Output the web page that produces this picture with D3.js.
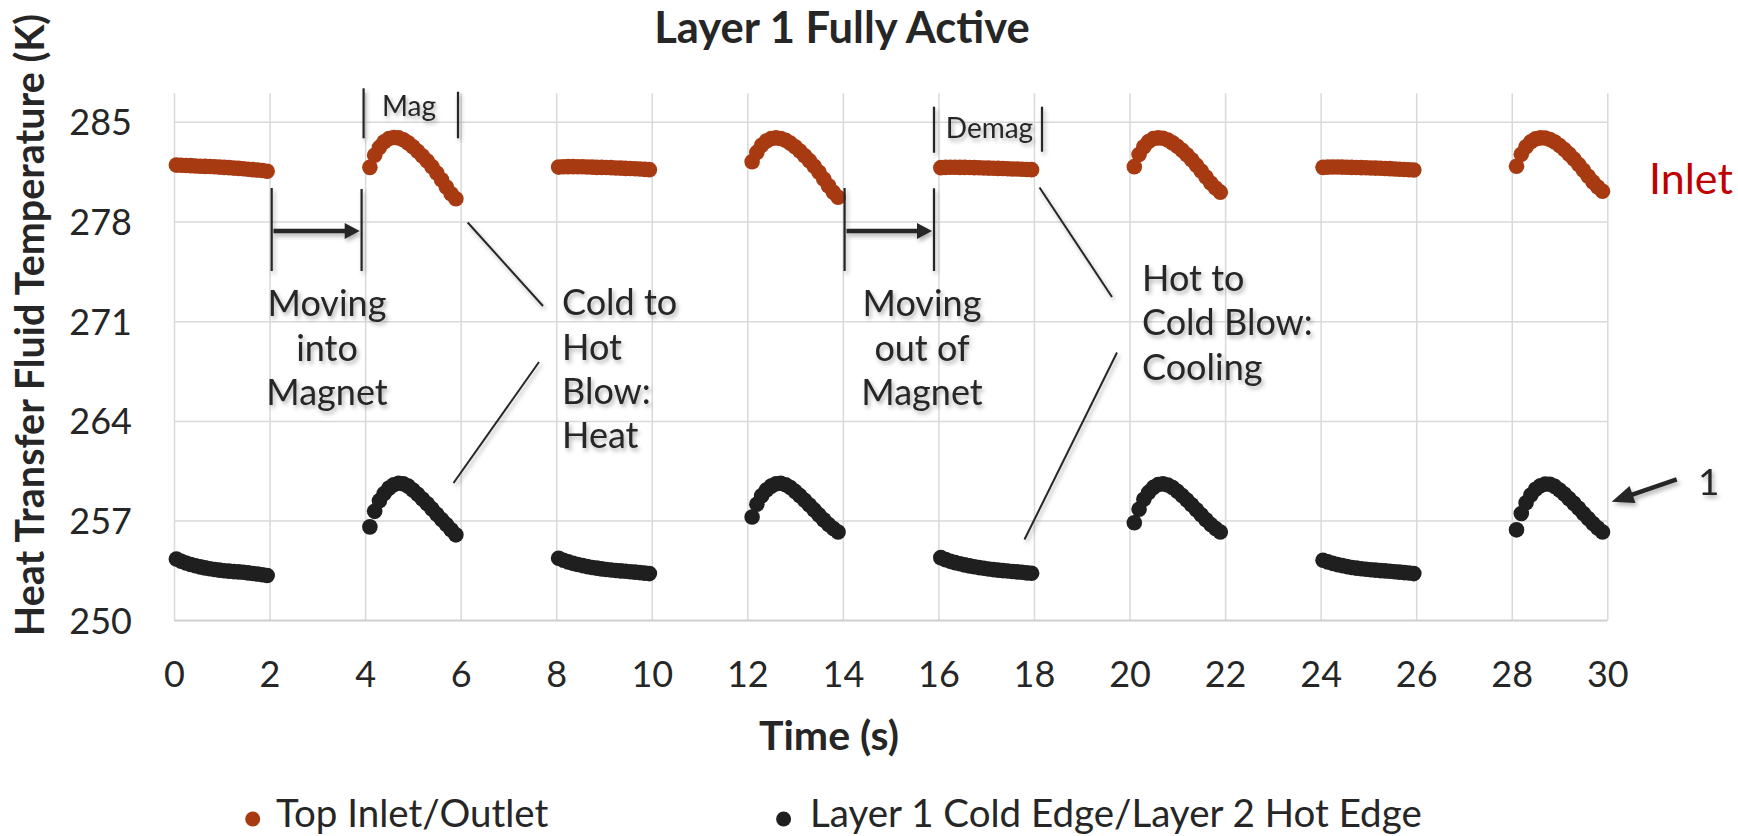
<!DOCTYPE html>
<html>
<head>
<meta charset="utf-8">
<script src="https://cdn.jsdelivr.net/npm/d3@7"></script>
<style>
  html, body { margin: 0; padding: 0; background: #fff; }
  svg { display: block; font-family: Lato, "Open Sans", sans-serif; }
</style>
</head>
<body>
<script>
// ---- Data -------------------------------------------------------------
const xTicks = [0, 2, 4, 6, 8, 10, 12, 14, 16, 18, 20, 22, 24, 26, 28, 30];
const yTicks = [250, 257, 264, 271, 278, 285];

// sample offsets (s) from the start of each flow window
const flatOffsets = [0.05, 0.15, 0.25, 0.35, 0.45, 0.55, 0.65, 0.75, 0.85, 0.95,
                     1.05, 1.15, 1.25, 1.35, 1.45, 1.55, 1.65, 1.75, 1.85, 1.95];
const arcOffsets  = [0.1, 0.2, 0.3, 0.4, 0.5, 0.6, 0.7, 0.8, 0.9, 1.0,
                     1.1, 1.2, 1.3, 1.4, 1.5, 1.6, 1.7, 1.8, 1.9];

// Top inlet/outlet temperature (K)
const inletFlat0  = [281.96, 281.95, 281.93, 281.92, 281.90, 281.88, 281.87, 281.86, 281.84, 281.82,
                     281.80, 281.78, 281.75, 281.73, 281.70, 281.67, 281.64, 281.61, 281.58, 281.53];
const inletArc4   = [281.80, 282.65, 283.20, 283.60, 283.82, 283.90, 283.87, 283.74, 283.52, 283.25,
                     282.93, 282.60, 282.24, 281.85, 281.40, 280.93, 280.42, 279.95, 279.60];
const inletFlat8  = [281.82, 281.84, 281.85, 281.85, 281.84, 281.84, 281.83, 281.82, 281.80, 281.80,
                     281.79, 281.78, 281.76, 281.75, 281.73, 281.72, 281.70, 281.68, 281.66, 281.64];
const inletArc12  = [282.20, 282.85, 283.35, 283.65, 283.82, 283.87, 283.83, 283.70, 283.50, 283.25,
                     282.95, 282.62, 282.27, 281.88, 281.45, 280.98, 280.50, 280.05, 279.70];
const inletFlat16 = [281.78, 281.80, 281.81, 281.81, 281.80, 281.80, 281.79, 281.78, 281.77, 281.76,
                     281.75, 281.74, 281.73, 281.72, 281.70, 281.69, 281.68, 281.67, 281.65, 281.64];
const inletArc20  = [281.85, 282.70, 283.25, 283.62, 283.82, 283.87, 283.84, 283.72, 283.52, 283.28,
                     283.00, 282.68, 282.33, 281.95, 281.55, 281.12, 280.70, 280.35, 280.06];
const inletFlat24 = [281.80, 281.82, 281.83, 281.83, 281.82, 281.81, 281.80, 281.79, 281.78, 281.77,
                     281.76, 281.75, 281.74, 281.72, 281.71, 281.69, 281.67, 281.65, 281.63, 281.61];
const inletArc28  = [281.88, 282.72, 283.25, 283.60, 283.80, 283.87, 283.86, 283.76, 283.58, 283.34,
                     283.05, 282.73, 282.38, 282.00, 281.60, 281.18, 280.78, 280.42, 280.12];

// Layer 1 cold edge / layer 2 hot edge temperature (K)
const edgeFlat0  = [254.30, 254.15, 254.02, 253.92, 253.83, 253.75, 253.68, 253.62, 253.57, 253.52,
                    253.48, 253.45, 253.42, 253.40, 253.37, 253.33, 253.29, 253.25, 253.20, 253.15];
const edgeArc4   = [256.56, 257.65, 258.40, 258.90, 259.28, 259.52, 259.62, 259.58, 259.42, 259.15,
                    258.85, 258.52, 258.18, 257.82, 257.45, 257.08, 256.72, 256.36, 256.00];
const edgeFlat8  = [254.36, 254.22, 254.10, 254.00, 253.92, 253.84, 253.77, 253.71, 253.66, 253.61,
                    253.57, 253.53, 253.50, 253.47, 253.44, 253.41, 253.38, 253.35, 253.31, 253.28];
const edgeArc12  = [257.25, 258.15, 258.75, 259.15, 259.42, 259.58, 259.62, 259.52, 259.32, 259.05,
                    258.75, 258.43, 258.10, 257.75, 257.40, 257.05, 256.72, 256.45, 256.20];
const edgeFlat16 = [254.40, 254.26, 254.14, 254.05, 253.97, 253.89, 253.82, 253.76, 253.70, 253.65,
                    253.60, 253.56, 253.52, 253.49, 253.46, 253.43, 253.40, 253.37, 253.33, 253.30];
const edgeArc20  = [256.85, 257.80, 258.50, 258.98, 259.33, 259.53, 259.58, 259.50, 259.32, 259.06,
                    258.76, 258.44, 258.11, 257.76, 257.41, 257.06, 256.73, 256.45, 256.20];
const edgeFlat24 = [254.22, 254.10, 254.00, 253.91, 253.84, 253.77, 253.71, 253.66, 253.62, 253.58,
                    253.55, 253.52, 253.49, 253.47, 253.44, 253.41, 253.38, 253.35, 253.32, 253.28];
const edgeArc28  = [256.35, 257.50, 258.25, 258.80, 259.20, 259.45, 259.57, 259.55, 259.40, 259.15,
                    258.86, 258.54, 258.21, 257.86, 257.50, 257.15, 256.80, 256.48, 256.20];

const seriesNames = ["Top Inlet/Outlet", "Layer 1 Cold Edge/Layer 2 Hot Edge"];
const seriesColors = ["#A83A12", "#1F1F1F"];

// segment start times paired with their readings
const inletSegments = [
  [0, flatOffsets, inletFlat0], [4, arcOffsets, inletArc4],
  [8, flatOffsets, inletFlat8], [12, arcOffsets, inletArc12],
  [16, flatOffsets, inletFlat16], [20, arcOffsets, inletArc20],
  [24, flatOffsets, inletFlat24], [28, arcOffsets, inletArc28]
];
const edgeSegments = [
  [0, flatOffsets, edgeFlat0], [4, arcOffsets, edgeArc4],
  [8, flatOffsets, edgeFlat8], [12, arcOffsets, edgeArc12],
  [16, flatOffsets, edgeFlat16], [20, arcOffsets, edgeArc20],
  [24, flatOffsets, edgeFlat24], [28, arcOffsets, edgeArc28]
];

function toPoints(segments) {
  const pts = [];
  segments.forEach(([t0, offs, vals]) => {
    vals.forEach((v, i) => pts.push({ t: +(t0 + offs[i]).toFixed(2), v }));
  });
  return pts;
}
const inletPoints = toPoints(inletSegments);
const edgePoints = toPoints(edgeSegments);

// ---- Layout -----------------------------------------------------------
const W = 1738, H = 836;
const plot = { left: 174, right: 1607.3, top: 93.3, bottom: 620.3 };
const textColor = "#262626";
const gridColor = "#D9D9D9";

const x = d3.scaleLinear().domain([0, 30]).range([plot.left, plot.right]);
const y = d3.scaleLinear().domain([250, 287]).range([plot.bottom, plot.top]);

const svg = d3.select("body").append("svg")
  .attr("width", W).attr("height", H);

const defs = svg.append("defs");
const shadow = defs.append("filter").attr("id", "soft-shadow")
  .attr("x", "-20%").attr("y", "-20%").attr("width", "140%").attr("height", "140%");
shadow.append("feDropShadow")
  .attr("dx", 2).attr("dy", 3).attr("stdDeviation", 2)
  .attr("flood-color", "#000").attr("flood-opacity", 0.3);

// ---- Gridlines and axes ----------------------------------------------
const xAxis = d3.axisBottom(x).tickValues(xTicks).tickFormat(d3.format("d"))
  .tickSize(-(plot.bottom - plot.top)).tickPadding(41);
const gx = svg.append("g").attr("transform", `translate(0,${plot.bottom})`).call(xAxis);
gx.select(".domain").remove();
gx.selectAll(".tick line").attr("stroke", gridColor).attr("stroke-width", 1.5);
gx.selectAll(".tick text").attr("fill", textColor)
  .attr("font-family", "Lato").attr("font-size", 36);

const yAxis = d3.axisLeft(y).tickValues(yTicks).tickFormat(d3.format("d"))
  .tickSize(-(plot.right - plot.left)).tickPadding(42);
const gy = svg.append("g").attr("transform", `translate(${plot.left},0)`).call(yAxis);
gy.select(".domain").remove();
gy.selectAll(".tick line").attr("stroke", gridColor).attr("stroke-width", 1.5);
gy.selectAll(".tick text").attr("fill", textColor)
  .attr("font-family", "Lato").attr("font-size", 36).attr("dy", "0.36em");

// bottom axis line
svg.append("line")
  .attr("x1", plot.left).attr("x2", plot.right)
  .attr("y1", y(250)).attr("y2", y(250))
  .attr("stroke", "#CFCFCF").attr("stroke-width", 1.8);

// ---- Titles -----------------------------------------------------------
svg.append("text").attr("x", 842).attr("y", 43)
  .attr("text-anchor", "middle").attr("font-weight", 700).attr("font-size", 43.5)
  .attr("fill", textColor).text("Layer 1 Fully Active");

svg.append("text").attr("transform", "translate(44,325) rotate(-90)")
  .attr("text-anchor", "middle").attr("font-weight", 700).attr("font-size", 39.5)
  .attr("fill", textColor).text("Heat Transfer Fluid Temperature (K)");

svg.append("text").attr("x", 829).attr("y", 750)
  .attr("text-anchor", "middle").attr("font-weight", 700).attr("font-size", 41)
  .attr("fill", textColor).text("Time (s)");

// ---- Data markers -----------------------------------------------------
const R = 7.8;
svg.append("g").selectAll("circle").data(inletPoints).join("circle")
  .attr("cx", d => x(d.t)).attr("cy", d => y(d.v)).attr("r", R)
  .attr("fill", seriesColors[0]);
svg.append("g").selectAll("circle").data(edgePoints).join("circle")
  .attr("cx", d => x(d.t)).attr("cy", d => y(d.v)).attr("r", R)
  .attr("fill", seriesColors[1]);

// ---- Legend -----------------------------------------------------------
const legendItems = [
  { name: seriesNames[0], color: seriesColors[0], mx: 252.7, tx: 276 },
  { name: seriesNames[1], color: seriesColors[1], mx: 783.6, tx: 810 }
];
const lg = svg.append("g");
lg.selectAll("circle").data(legendItems).join("circle")
  .attr("cx", d => d.mx).attr("cy", 819).attr("r", 7.5).attr("fill", d => d.color);
lg.selectAll("text").data(legendItems).join("text")
  .attr("x", d => d.tx).attr("y", 827).attr("font-size", 38.5).attr("fill", textColor)
  .text(d => d.name);

// ---- Annotations ------------------------------------------------------
const ann = svg.append("g").attr("filter", "url(#soft-shadow)")
  .attr("fill", textColor).attr("stroke-linecap", "butt");

function vline(px, y1, y2) {
  ann.append("line").attr("x1", px).attr("x2", px).attr("y1", y1).attr("y2", y2)
    .attr("stroke", textColor).attr("stroke-width", 2.2);
}
function seg(x1, y1, x2, y2, w) {
  ann.append("line").attr("x1", x1).attr("y1", y1).attr("x2", x2).attr("y2", y2)
    .attr("stroke", textColor).attr("stroke-width", w);
}
function arrow(x1, y1, x2, y2, headLen, headHalf, w) {
  const dx = x2 - x1, dy = y2 - y1, L = Math.hypot(dx, dy);
  const ux = dx / L, uy = dy / L;
  const bx = x2 - ux * headLen, by = y2 - uy * headLen;
  seg(x1, y1, bx + ux * 1, by + uy * 1, w);
  ann.append("path")
    .attr("d", `M${x2},${y2}L${bx - uy * headHalf},${by + ux * headHalf}L${bx + uy * headHalf},${by - ux * headHalf}Z`)
    .attr("fill", textColor);
}
function lines(strs, px, baselines, anchor, size) {
  strs.forEach((s, i) => {
    ann.append("text").attr("x", px).attr("y", baselines[i])
      .attr("text-anchor", anchor).attr("font-size", size).text(s);
  });
}

// magnetization / demagnetization windows
vline(363.6, 88.3, 138.3); vline(458, 91.7, 138.3);
lines(["Mag"], 409, [116], "middle", 28);
vline(934, 106.7, 152.7); vline(1042, 106.7, 151.7);
lines(["Demag"], 989.5, [138], "middle", 28);

// moving into / out of the magnet
vline(271.7, 188, 271); vline(361.6, 189, 271);
arrow(273.5, 231, 359.7, 231, 15, 8, 4.5);
lines(["Moving", "into", "Magnet"], 327, [316, 360.5, 405], "middle", 36);

vline(844.6, 188, 271); vline(934, 188.3, 271);
arrow(846.5, 231, 932, 231, 15, 8, 4.5);
lines(["Moving", "out of", "Magnet"], 922, [316, 360.5, 405], "middle", 36);

// blow phase callouts
seg(467.7, 222.5, 543, 306, 2);
seg(453.5, 483, 539, 362, 2);
lines(["Cold to", "Hot", "Blow:", "Heat"], 562, [315, 359.5, 404, 448], "start", 36);

seg(1039.5, 187.5, 1112, 297, 2);
seg(1024.5, 539.5, 1117, 352.5, 2);
lines(["Hot to", "Cold Blow:", "Cooling"], 1142, [290.5, 335, 379.5], "start", 36);

// layer marker
arrow(1676.7, 479.3, 1611.7, 501.7, 22, 9, 4.5);
lines(["1"], 1698, [495], "start", 37);

// inlet label
svg.append("text").attr("x", 1649).attr("y", 194).attr("font-size", 43)
  .attr("fill", "#C00000").text("Inlet");
</script>
</body>
</html>
